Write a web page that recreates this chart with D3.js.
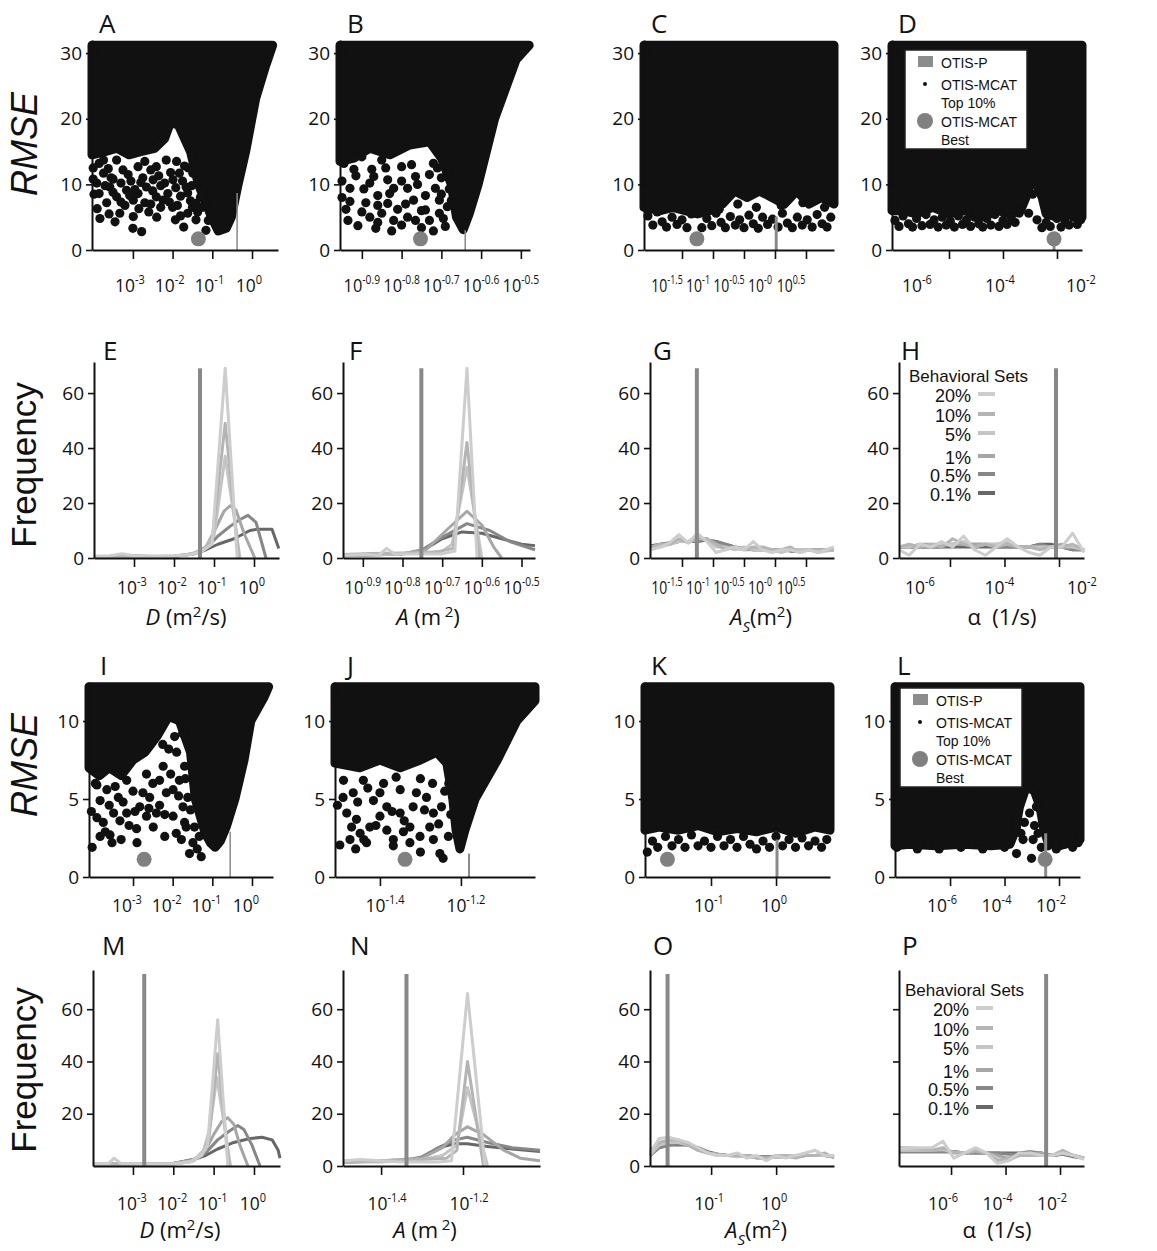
<!DOCTYPE html>
<html>
<head>
<meta charset="utf-8">
<script src="https://cdnjs.cloudflare.com/ajax/libs/d3/7.8.5/d3.min.js"></script>
<style>
  body { margin: 0; background: #fff; }
  svg text { font-family: "Open Sans", sans-serif; fill: #111; }
  .lg text { font-family: "Liberation Sans", Arial, sans-serif; }
  .ttl { font-family: "Liberation Sans", Arial, sans-serif !important; }
</style>
</head>
<body>
<svg id="fig" width="1157" height="1251"></svg>
<script>
// ---- series names / colours (behavioral sets) ----
const setNames = ['20%', '10%', '5%', '1%', '0.5%', '0.1%'];
const setColors = ['#cdcdcd', '#b4b4b4', '#c4c4c4', '#a6a6a6', '#878787', '#676767'];

// ---- tick values (log10 of parameter) and exponent labels ----
const ticksD = [-3, -2, -1, 0];          const expD = ['-3', '-2', '-1', '0'];
const ticksA1 = [-0.9, -0.8, -0.7, -0.6, -0.5]; const expA1 = ['-0.9', '-0.8', '-0.7', '-0.6', '-0.5'];
const ticksAs1 = [-1.5, -1, -0.5, 0, 0.5]; const expAs1 = ['-1.5', '-1', '-0.5', '-0', '0.5'];
const ticksAlpha = [-6, -4, -2];         const expAlpha = ['-6', '-4', '-2'];
const ticksA2 = [-1.4, -1.2];            const expA2 = ['-1.4', '-1.2'];
const ticksAs2 = [-1, 0];                const expAs2 = ['-1', '0'];

// ---- best fit (OTIS-MCAT best): [log10 param, RMSE] ----
const bestA = [-1.35, 1.7], bestB = [-0.7525, 1.7], bestC = [-1.26, 1.7], bestD = [-2.11, 1.7];
const bestI = [-2.72, 1.13], bestJ = [-1.338, 1.13], bestK = [-1.67, 1.13], bestL = [-2.51, 1.13];

// ---- OTIS-P result: [log10 param, RMSE] ----
const otisA = [-0.375, 8.7], otisB = [-0.64, 3.0], otisC = [0.02, 5.1], otisD = [-2.11, 1.5];
const otisI = [-0.55, 2.9], otisJ = [-1.18, 1.5], otisK = [0.015, 2.4], otisL = [-2.49, 2.8];

// ---- dense part of the top-10% clouds (outline of overlapping dots) ----
const cloudA = [[-4.03,31.2],[0.52,31.2],[0.34,28],[0.09,23],[-0.16,15],[-0.35,10],[-0.52,5],[-0.65,3.3],[-0.85,2.9],[-1.02,5],[-1.35,10],[-1.55,15],[-1.85,19],[-2.05,19.5],[-2.2,17],[-2.45,15.5],[-2.8,15],[-3.1,14.5],[-3.4,15.5],[-3.7,15],[-4.03,14.5]];
const cloudB = [[-0.955,31.2],[-0.479,31.2],[-0.512,29],[-0.566,20],[-0.6075,10],[-0.63,5.5],[-0.645,3.1],[-0.662,5],[-0.675,10],[-0.7,14],[-0.73,16.5],[-0.78,16],[-0.83,14.5],[-0.88,15.5],[-0.92,14],[-0.955,13.5]];
const cloudC = [[-2.113,31.2],[0.952,31.2],[0.952,7],[0.75,8],[0.55,7],[0.35,9],[0.15,7],[-0.05,8],[-0.25,9],[-0.45,8],[-0.65,9],[-0.85,7],[-1.05,6],[-1.25,5.5],[-1.45,6],[-1.65,6.5],[-1.85,6],[-2.113,6.5]];
const cloudD = [[-8.11,31.2],[-1.074,31.2],[-1.074,5],[-1.5,5.5],[-2.0,5],[-2.4,5.5],[-2.55,8],[-2.75,10],[-2.95,10.5],[-3.15,8],[-3.35,6],[-3.7,5.5],[-4.2,6],[-4.8,5],[-5.4,6],[-6.0,5.5],[-6.6,6.5],[-7.2,5.5],[-7.7,6],[-8.11,6]];
const cloudI = [[-4.11,12.2],[0.42,12.2],[0.3,11.5],[-0.03,10],[-0.2,7.5],[-0.43,5],[-0.65,3.2],[-0.8,2.3],[-0.93,1.9],[-1.05,2.2],[-1.18,2.8],[-1.43,5],[-1.55,8],[-1.83,10],[-2.1,10.3],[-2.4,9],[-2.7,8],[-3.0,7.5],[-3.3,6.5],[-3.6,7],[-3.85,6.5],[-4.11,7]];
const cloudJ = [[-1.511,12.2],[-1.017,12.2],[-1.017,11.3],[-1.062,10],[-1.11,7.5],[-1.165,5],[-1.19,3],[-1.2025,1.8],[-1.212,3],[-1.22,5],[-1.235,7.3],[-1.26,8],[-1.3,7.5],[-1.35,7],[-1.4,7.5],[-1.45,7],[-1.511,7.3]];
const cloudK = [[-2.015,12.2],[0.83,12.2],[0.83,3],[0.6,3.2],[0.3,2.8],[0,3.2],[-0.3,2.9],[-0.6,3.1],[-0.9,2.9],[-1.2,3.3],[-1.5,3],[-1.8,3.2],[-2.015,3]];
const cloudL = [[-8.02,12.2],[-1.23,12.2],[-1.23,2.4],[-1.6,2.2],[-2.0,2.0],[-2.4,2.2],[-2.55,3],[-2.7,4.5],[-2.9,5.5],[-3.2,5.8],[-3.45,4.5],[-3.6,3],[-3.8,2.1],[-4.5,2.0],[-5.5,2.1],[-6.5,2.0],[-7.5,2.1],[-8.02,2.0]];

// ---- separate dots of the top-10% clouds ----
const ptsA = [[-3.91,10.2],[-3.74,11.7],[-3.58,9.6],[-3.41,8.1],[-3.16,9.1],[-2.99,7.6],[-2.87,8.6],[-2.66,9.6],[-2.49,10.7],[-2.41,8.1],[-2.24,7.6],[-2.12,8.6],[-1.99,10.7],[-1.83,11.7],[-1.66,9.6],[-1.49,11.7],[-1.33,10],[-1.24,8.6],[-2.41,12.7],[-2.87,12.7],[-3.25,12.2],[-3.41,13.7],[-3.74,13.7],[-2.16,13.7],[-3.83,4.8],[-3.45,4.3],[-3.33,5.6],[-2.99,5.1],[-2.78,2.8],[-1.93,4.6],[-1.72,3.5],[-1.62,5.6],[-1.37,5.8],[-1.41,4.6],[-1.16,3.0],[-1.41,7.1],[-3.98,8.5],[-3.66,7.2],[-3.5,10.8],[-3.05,10.5],[-2.75,11],[-2.55,7],[-2.3,9.8],[-2.0,6.5],[-1.8,8.2],[-1.55,7.5],[-1.7,12.8],[-1.9,13.5],[-3.9,6.3],[-3.2,6.8],[-2.6,5.8],[-1.25,6.5],[-1.1,4.5],
  [-4.0,12.5],[-3.85,13.2],[-3.62,12.4],[-3.55,11],[-3.3,10.2],[-3.12,11.5],[-2.95,9.2],[-2.8,10.3],[-2.7,13.5],[-2.55,12.2],[-2.35,11.3],[-2.2,10.2],[-2.05,11.8],[-1.92,9.5],[-1.75,10.5],[-1.6,12.5],[-1.52,9.8],[-1.45,13.2],[-1.35,11.8],[-1.2,9.6],[-1.18,7.2],[-1.3,8],[-1.5,6.5],[-1.62,8.7],[-1.88,6.8],[-2.08,7.3],[-2.3,6.5],[-2.5,9],[-2.7,7.2],[-2.85,6.3],[-3.08,8.3],[-3.3,7.3],[-3.5,8.8],[-3.7,9.8],[-3.85,8.6],[-4.0,10.8],[-3.6,5.5],[-3.0,3.3],[-2.4,5],[-1.8,5.2]];
const ptsB = [[-0.94,6.2],[-0.93,9.4],[-0.91,3.7],[-0.89,7.2],[-0.88,5.0],[-0.86,8.3],[-0.85,5.6],[-0.835,7.1],[-0.825,2.9],[-0.81,6.2],[-0.785,5],[-0.77,7.6],[-0.765,4.5],[-0.74,6.1],[-0.72,2.9],[-0.715,9.4],[-0.705,5.6],[-0.69,3.6],[-0.685,6.6],[-0.915,11.3],[-0.875,12.3],[-0.835,10.7],[-0.8,12.7],[-0.765,11.2],[-0.72,13.2],[-0.7,11],[-0.945,13.2],[-0.9,14.2],[-0.785,9.4],[-0.82,9.4],[-0.88,10.2],[-0.85,13.7],[-0.74,8.3],[-0.93,7.4],[-0.68,9.3],[-0.705,7.6],[-0.95,10.5],[-0.8,3.8],[-0.86,4.2],[-0.75,3.4],
  [-0.95,8],[-0.92,12.3],[-0.9,5.8],[-0.87,11.2],[-0.86,6.8],[-0.84,12.5],[-0.83,8.6],[-0.82,4.5],[-0.8,10.5],[-0.79,7],[-0.775,13],[-0.76,10],[-0.75,6],[-0.73,11.5],[-0.73,4.5],[-0.71,12.5],[-0.7,8.5],[-0.695,4.8],[-0.68,12.2],[-0.675,7.5],[-0.935,4.5],[-0.895,9.3],[-0.865,3.3]];
const ptsC = [[-2.05,5.2],[-1.97,3.8],[-1.9,5.8],[-1.82,4.3],[-1.75,3.5],[-1.66,5.0],[-1.58,3.9],[-1.5,4.6],[-1.42,3.4],[-1.35,5.5],[-1.18,3.4],[-1.1,4.8],[-1.02,3.7],[-0.95,5.6],[-0.87,4.2],[-0.8,3.4],[-0.72,5.1],[-0.64,3.8],[-0.57,4.6],[-0.5,3.4],[-0.42,5.3],[-0.35,4.0],[-0.27,3.3],[-0.2,5.0],[-0.12,3.9],[-0.04,4.7],[0.05,3.5],[0.12,5.6],[0.2,4.1],[0.28,3.4],[0.36,5.0],[0.44,3.8],[0.52,4.6],[0.6,3.5],[0.68,5.4],[0.76,4.0],[0.84,3.5],[0.9,5.0],[-0.6,7],[-0.3,6.5],[0.1,6.8],[0.45,7.2],[0.8,6.5],[-0.9,6.2]];
const ptsD = [[-8.0,4.5],[-7.85,3.6],[-7.7,5.2],[-7.5,4.0],[-7.35,3.5],[-7.2,4.8],[-7.0,3.7],[-6.85,5.4],[-6.7,3.9],[-6.55,4.6],[-6.4,3.5],[-6.25,5.0],[-6.1,3.8],[-5.95,4.4],[-5.8,3.5],[-5.65,5.2],[-5.5,3.9],[-5.35,4.6],[-5.2,3.6],[-5.05,5.0],[-4.9,4.0],[-4.75,3.5],[-4.6,4.8],[-4.45,3.8],[-4.3,5.4],[-4.15,3.6],[-4.0,4.5],[-3.85,3.9],[-3.7,5.0],[-3.55,4.2],[-3.4,5.6],[-3.3,7.2],[-3.05,5.6],[-2.9,8.5],[-2.74,4.6],[-2.56,3.4],[-2.4,4.2],[-2.25,3.6],[-2.0,4.8],[-1.85,3.5],[-1.7,4.4],[-1.55,3.8],[-1.4,5.0],[-1.25,3.9],[-1.12,4.6]];
const ptsI = [[-4.03,1.9],[-3.91,3.8],[-3.83,2.6],[-3.7,2.9],[-3.53,2.2],[-3.58,2.7],[-3.49,4.1],[-3.83,4.9],[-3.66,5.6],[-3.37,5.1],[-2.91,3.1],[-2.66,3.9],[-2.49,3.2],[-2.41,4.1],[-2.33,4.6],[-2.83,4.5],[-2.58,5.1],[-2.16,5.4],[-1.99,3.9],[-1.91,2.8],[-1.78,2.4],[-1.66,3.2],[-1.575,1.5],[-1.49,2.2],[-1.33,2.6],[-1.28,1.3],[-1.74,4.5],[-1.99,5.6],[-2.33,6.2],[-1.83,6.2],[-1.62,5.1],[-1.7,7.1],[-2.24,7.1],[-2.66,6.6],[-3.16,6.2],[-3.83,6.6],[-3.91,5.9],[-3.16,4.1],[-3.33,3.6],[-3.0,5.5],[-2.1,8.2],[-1.95,9.0],
  [-4.05,4.2],[-3.95,6.0],[-3.75,3.5],[-3.6,4.6],[-3.45,5.8],[-3.25,4.8],[-3.1,3.3],[-2.95,4.2],[-2.75,5.4],[-2.6,4.4],[-2.5,6.0],[-2.2,4.0],[-2.05,6.6],[-1.85,5.2],[-1.7,3.5],[-1.55,4.3],[-1.45,3.2],[-1.38,1.8],[-2.9,2.2],[-3.3,2.4],[-2.2,2.6],[-1.9,8],[-1.75,9.2],[-2.25,8.5],[-1.68,6.3]];
const ptsJ = [[-1.499,2.05],[-1.474,2.4],[-1.449,2.8],[-1.433,2.2],[-1.482,4.1],[-1.458,3.7],[-1.425,3.2],[-1.4,3.9],[-1.383,3.0],[-1.367,2.4],[-1.416,4.9],[-1.383,4.5],[-1.35,4.1],[-1.326,3.2],[-1.301,2.6],[-1.277,3.2],[-1.268,2.4],[-1.252,1.5],[-1.244,1.2],[-1.231,2.6],[-1.318,4.5],[-1.285,5.1],[-1.35,5.6],[-1.391,6.0],[-1.466,5.4],[-1.491,5.1],[-1.441,6.2],[-1.268,4.1],[-1.248,4.5],[-1.326,2.2],[-1.367,2.0],[-1.342,2.9],[-1.3,6.3],[-1.23,6.0],
  [-1.505,4.6],[-1.49,6.2],[-1.47,3.2],[-1.455,4.8],[-1.44,2.4],[-1.43,5.7],[-1.41,3.3],[-1.4,5.4],[-1.37,4.2],[-1.36,6.4],[-1.34,3.6],[-1.31,5.4],[-1.29,4.3],[-1.27,6.0],[-1.255,3.4],[-1.24,5.5],[-1.225,4.0],[-1.46,1.8],[-1.3,1.6]];
const ptsK = [[-1.98,1.6],[-1.9,2.3],[-1.82,1.9],[-1.7,2.6],[-1.6,2.0],[-1.5,2.4],[-1.4,1.9],[-1.3,2.7],[-1.2,2.0],[-1.1,2.3],[-1.0,1.9],[-0.9,2.6],[-0.8,2.0],[-0.7,2.4],[-0.6,1.9],[-0.5,2.6],[-0.4,2.1],[-0.3,1.8],[-0.2,2.3],[-0.1,1.9],[0.0,2.6],[0.1,2.0],[0.2,2.4],[0.3,1.9],[0.4,2.5],[0.5,2.0],[0.6,2.3],[0.7,1.9],[0.78,2.4]];
const ptsL = [[-7.95,1.9],[-7.6,2.2],[-7.2,1.8],[-6.8,2.1],[-6.4,1.8],[-6.0,2.2],[-5.6,1.9],[-5.2,2.1],[-4.8,1.8],[-4.4,2.2],[-4.0,1.9],[-3.56,1.5],[-3.32,2.4],[-3.27,3.5],[-3.01,1.2],[-2.95,2.4],[-2.77,2.8],[-2.65,1.9],[-3.56,3.2],[-3.08,4.1],[-2.83,4.5],[-3.4,2.8],[-2.9,3.3],[-2.4,2.0],[-2.1,1.8],[-1.8,2.1],[-1.5,1.9],[-1.3,2.2]];

// ---- frequency distributions, one list per behavioral set (20% ... 0.1%) ----
const freqE = [
  [[-4.0,0.6],[-3.6,0.8],[-3.3,1.6],[-3.0,0.8],[-2.5,0.6],[-2.0,0.8],[-1.6,1.2],[-1.3,2.5],[-1.05,5],[-0.72,69],[-0.42,0]],
  [[-4.0,0.5],[-3.5,0.6],[-3.0,0.9],[-2.5,0.5],[-2.0,0.7],[-1.6,1.3],[-1.3,3],[-1.05,6],[-0.72,49],[-0.38,0]],
  [[-4.0,0.4],[-3.0,0.6],[-2.0,0.7],[-1.5,1.5],[-1.25,3],[-1.0,8],[-0.72,37],[-0.35,0]],
  [[-4.0,0.3],[-3.0,0.5],[-2.0,0.6],[-1.5,1.5],[-1.2,4],[-0.95,11],[-0.75,17],[-0.6,19],[-0.45,17.5],[-0.25,9],[0.02,0]],
  [[-4.0,0.3],[-2.0,0.6],[-1.5,1.6],[-1.2,3.5],[-0.9,8],[-0.6,11.5],[-0.35,14],[-0.15,15.5],[0.05,13],[0.3,0]],
  [[-4.0,0.3],[-2.0,0.5],[-1.5,1.5],[-1.2,3],[-0.9,5],[-0.5,7],[-0.1,10],[0.1,10.5],[0.45,10.5],[0.62,3.5]]
];
const freqF = [
  [[-0.95,1],[-0.9,1.3],[-0.86,1],[-0.84,3.5],[-0.82,1.5],[-0.76,1.5],[-0.7,1.5],[-0.668,2.5],[-0.6375,69],[-0.612,0]],
  [[-0.95,1.3],[-0.88,1.6],[-0.8,1.8],[-0.72,2],[-0.672,3.5],[-0.6375,42],[-0.607,0]],
  [[-0.95,1],[-0.8,1.5],[-0.7,2.5],[-0.675,5],[-0.6375,33],[-0.6,0]],
  [[-0.95,1],[-0.8,1.5],[-0.74,3],[-0.69,10],[-0.6375,17],[-0.6,12],[-0.57,4],[-0.55,0]],
  [[-0.95,0.8],[-0.8,1.5],[-0.75,3],[-0.7,7.5],[-0.6375,12.5],[-0.58,10],[-0.53,6],[-0.466,3]],
  [[-0.95,0.8],[-0.8,1.5],[-0.757,2],[-0.7,7],[-0.65,9.5],[-0.6,9],[-0.55,7],[-0.5,5],[-0.466,4.5]]
];
const gridG = [-2.0,-1.85,-1.7,-1.55,-1.4,-1.25,-1.1,-0.95,-0.8,-0.65,-0.5,-0.35,-0.2,-0.05,0.1,0.25,0.4,0.55,0.7,0.95];
const freqG = [
  [3,4,5.5,8.5,5.5,9,6,2,3,4,3,6,3,2,3,3,2,3,2,4],
  [4,5,5,7,5.5,7,7,5,3,4,3,4,4,3,3,4,2,3,3,3],
  [3.5,4,5,6,6,8,6.5,4,4,3,4,3,3,3,2,3,3,3,2,3],
  [4,4.5,5,6,6,7,7,5,4,3.5,3,3,3.5,3,3,3,3,3,3,3],
  [4,5,5.5,6,6,6.5,6.5,6,5,4,3.5,3,3,3,3,3,2.5,3,3,3],
  [4.5,5,5.5,6,6,6,6.5,6,5,4,3.5,3,3,3,3,2.5,2.5,3,3,3]
];
const gridH = [-7.87,-7.5,-7.1,-6.7,-6.3,-5.9,-5.5,-5.1,-4.7,-4.3,-3.9,-3.5,-3.1,-2.7,-2.3,-1.9,-1.5,-1.08];
const freqH = [
  [3,1,5,4,6,4,8,3,1,4,7,4,2,1,4,4,9,2],
  [4,5,4,5,4,7,5,4,5,4,5,4,4,3,4,4,5,3],
  [4,4,5,4,5,5,6,4,5,5,6,4,4,4,4,4,4,3],
  [4,4,5,5,5,5,5,5,5,5,5,4,4,4,4,5,4,3],
  [4,4,4,4,4,5,5,5,5,4,4,4,4,5,4,4,3,3],
  [4,4,4,4,4,4,4,4,4,4,4,4,4,5,5,4,3,3]
];
const freqM = [
  [[-3.99,1],[-3.6,1],[-3.47,3],[-3.3,1],[-2.5,0.8],[-2.0,0.8],[-1.6,1.5],[-1.3,4],[-1.15,8],[-0.9,56],[-0.65,0]],
  [[-3.99,1],[-3.0,0.8],[-2.0,0.8],[-1.6,1.5],[-1.3,4],[-1.12,10],[-0.9,43],[-0.62,0]],
  [[-3.99,0.8],[-2.0,1],[-1.5,2],[-1.25,6],[-1.1,14],[-0.92,34],[-0.58,0]],
  [[-3.99,0.8],[-2.0,1],[-1.5,2],[-1.2,6],[-1.0,12],[-0.8,17],[-0.65,18.5],[-0.5,16],[-0.35,8],[-0.15,0]],
  [[-3.99,0.8],[-2.0,1],[-1.5,2.5],[-1.2,5],[-0.9,10],[-0.6,13.5],[-0.4,15.5],[-0.25,14],[-0.05,8],[0.15,0]],
  [[-3.99,0.8],[-2.0,1],[-1.5,2.5],[-1.2,4],[-0.9,6.5],[-0.5,9],[-0.1,10.5],[0.2,11],[0.45,10],[0.6,6],[0.645,3]]
];
const freqN = [
  [[-1.493,2],[-1.45,2.5],[-1.4,2],[-1.35,1.5],[-1.3,1.5],[-1.26,1.5],[-1.228,2],[-1.189,66],[-1.146,0]],
  [[-1.493,1.5],[-1.4,2],[-1.3,2.5],[-1.24,3],[-1.215,6],[-1.189,40],[-1.15,0]],
  [[-1.493,1.5],[-1.4,1.5],[-1.3,2.5],[-1.25,4],[-1.215,8],[-1.189,30],[-1.14,0]],
  [[-1.493,1.5],[-1.4,2],[-1.3,3],[-1.25,7],[-1.22,12],[-1.189,15],[-1.15,12],[-1.1,6],[-1.06,3],[-1.012,2]],
  [[-1.493,1.5],[-1.35,2],[-1.3,3.5],[-1.26,7],[-1.22,10],[-1.19,11],[-1.14,9],[-1.08,7],[-1.012,6]],
  [[-1.493,1.5],[-1.35,2],[-1.304,3],[-1.26,7],[-1.22,8.5],[-1.19,8.5],[-1.14,7.5],[-1.08,6.5],[-1.012,5.5]]
];
const gridO = [-1.94,-1.8,-1.65,-1.5,-1.35,-1.2,-1.05,-0.9,-0.75,-0.6,-0.45,-0.3,-0.15,0,0.15,0.3,0.45,0.6,0.75,0.89];
const freqO = [
  [5,10.5,11,10,9,7,5,4,4,5,3,4,2,4,3,4,5,6,4,4],
  [6,9,10,10,8,6,5,4.5,4,4,4,3,3,4,4,3,4,4,5,3],
  [4,8,9,9,8,6,5,4,4,3.5,4,3,3,3.5,4,4,4,4,4,3.5],
  [5,8,9,9,8,6.5,5,4.5,4,4,3.5,3.5,3,3.5,3.5,4,4,4,4,3.5],
  [4,7,8,8.5,8,7,5,4.5,4,4,3.5,3.5,3.5,3.5,3.5,3.5,4,4,4,3.5],
  [4,7,8,8,8,7,5.5,4.5,4,4,4,3.5,3.5,3.5,3.5,3.5,4,4,4,3.5]
];
const gridP = [-7.91,-7.5,-7.1,-6.7,-6.3,-5.9,-5.5,-5.1,-4.7,-4.3,-3.9,-3.5,-3.1,-2.7,-2.3,-1.9,-1.5,-1.12];
const freqP = [
  [6.5,7,7,7,9.5,3,5,7,5,1,2,5,5,4,4,5,4,2.5],
  [7,7,6.5,6,7,5,5,6,5,2,3,4,4,4,4,6,4,3],
  [6,6,6,6,6.5,5,5,6,5,3,2,4,5,4,4,5,4,3],
  [6,6,6,6,6,5.5,5,5.5,5,4,3,4,5,5,4,5,4,3],
  [5.5,5.5,5.5,5.5,5.5,5.5,5,5,5,5,4.5,4.5,5,5,4,4.5,4,3],
  [5.5,5.5,5.5,5.5,5.5,5.5,5,5,5,5,5,5,5.5,5,4,4.5,3.5,3]
];

const svg = d3.select('#fig');

function onGrid(grid, sets) {
  return sets.map(vals => grid.map((g, i) => [g, vals[i]]));
}

function drawXAxis(x, yPx, ticks, exps, dx, baseline, sx) {
  svg.append('g').attr('transform', `translate(0,${yPx})`).attr('color', '#111')
    .call(d3.axisBottom(x).tickValues(ticks).tickFormat('').tickSize(9).tickSizeOuter(0))
    .call(a => a.select('.domain').attr('stroke-width', 2))
    .call(a => a.selectAll('.tick line').attr('stroke-width', 1.6));
  ticks.forEach((t, i) => {
    let off = Array.isArray(dx) ? dx[i] : dx;
    // labels are horizontally condensed, like the narrow face of the original
    let txt = svg.append('text')
      .attr('transform', `translate(${x(t) + off},${baseline}) scale(${sx || 0.92},1)`)
      .attr('text-anchor', 'middle').attr('font-size', 19);
    txt.append('tspan').text('10');
    txt.append('tspan').attr('dy', -8).attr('font-size', 12).text(exps[i]);
  });
}

function drawYAxis(y, xPx, ticks, labelled) {
  svg.append('g').attr('transform', `translate(${xPx},0)`).attr('color', '#111')
    .call(d3.axisLeft(y).tickValues(ticks).tickFormat(d => labelled.includes(d) ? d : '')
      .tickSize(6).tickSizeOuter(0).tickPadding(4))
    .call(a => a.select('.domain').attr('stroke-width', 2))
    .call(a => a.selectAll('.tick line').attr('stroke-width', 1.6))
    .call(a => a.selectAll('text').attr('font-size', 19));
}

function drawScatter(p) {
  let x = d3.scaleLinear().domain(p.xDom).range(p.xRange);
  let y = d3.scaleLinear().domain(p.yDom).range(p.yRange);
  let g = svg.append('g');
  g.append('path').datum(p.cloud)
    .attr('d', d3.line().x(d => x(d[0])).y(d => y(d[1])).curve(d3.curveLinearClosed))
    .attr('fill', '#111').attr('stroke', '#111').attr('stroke-width', 9).attr('stroke-linejoin', 'round');
  g.selectAll('circle.pt').data(p.pts).join('circle').attr('class', 'pt')
    .attr('cx', d => x(d[0])).attr('cy', d => y(d[1])).attr('r', 4.6).attr('fill', '#111');
  g.append('line').attr('x1', x(p.otis[0])).attr('x2', x(p.otis[0]))
    .attr('y1', y(0)).attr('y2', y(p.otis[1]))
    .attr('stroke', '#8a8a8a').attr('stroke-width', p.otisW);
  g.append('circle').attr('cx', x(p.best[0])).attr('cy', y(p.best[1])).attr('r', 7.5).attr('fill', '#808080');
  drawYAxis(y, p.xRange[0], p.yTicks, p.yTicks);
  drawXAxis(x, p.yRange[0], p.ticks, p.exps, p.dx, p.base, p.sx);
}

function drawFreq(p) {
  let x = d3.scaleLinear().domain(p.xDom).range(p.xRange);
  let y = d3.scaleLinear().domain(p.yDom).range(p.yRange);
  let line = d3.line().x(d => x(d[0])).y(d => y(d[1]));
  let order = [5, 4, 3, 2, 1, 0];
  order.forEach(i => {
    svg.append('path').datum(p.sets[i]).attr('d', line)
      .attr('fill', 'none').attr('stroke', setColors[i]).attr('stroke-width', 3)
      .attr('stroke-linejoin', 'round');
  });
  svg.append('line').attr('x1', x(p.best)).attr('x2', x(p.best))
    .attr('y1', y(0)).attr('y2', y(p.barTop))
    .attr('stroke', '#888').attr('stroke-width', 4);
  drawYAxis(y, p.xRange[0], p.yTicks, p.yLabels);
  drawXAxis(x, p.yRange[0], p.ticks, p.exps, p.dx, p.base, p.sx);
}

function letter(t, x, y) {
  svg.append('text').attr('x', x).attr('y', y).attr('font-size', 26).text(t);
}

function yTitle(t, x, y, italic, size) {
  svg.append('text').attr('class', 'ttl').attr('transform', `translate(${x},${y}) rotate(-90)`)
    .attr('text-anchor', 'middle').attr('font-size', size)
    .attr('font-style', italic ? 'italic' : 'normal').text(t);
}

// x titles built from pieces: [text, kind]
function xTitle(parts, cx, base) {
  let t = svg.append('text').attr('x', cx).attr('y', base).attr('text-anchor', 'middle').attr('font-size', 22);
  let shift = 0;
  parts.forEach(pt => {
    let s = t.append('tspan').text(pt[0]);
    let want = pt[1] === 'sup' ? -8 : pt[1] === 'sub' ? 7 : 0;
    if (want !== shift) { s.attr('dy', want - shift); shift = want; }
    if (pt[1] === 'sup' || pt[1] === 'sub') s.attr('font-size', 15);
    if (pt[1] === 'it' || pt[1] === 'sub') s.attr('font-style', 'italic');
  });
}

function otisLegend(x0, y0) {
  let g = svg.append('g').attr('class', 'lg');
  g.append('rect').attr('x', x0).attr('y', y0).attr('width', 122).attr('height', 99)
    .attr('fill', '#fff').attr('stroke', '#222').attr('stroke-width', 1.5);
  g.append('rect').attr('x', x0 + 13).attr('y', y0 + 6).attr('width', 15).attr('height', 11).attr('fill', '#8c8c8c');
  g.append('circle').attr('cx', x0 + 20).attr('cy', y0 + 34).attr('r', 2).attr('fill', '#111');
  g.append('circle').attr('cx', x0 + 20).attr('cy', y0 + 71).attr('r', 8).attr('fill', '#808080');
  let rows = [['OTIS-P', 18], ['OTIS-MCAT', 40], ['Top 10%', 58], ['OTIS-MCAT', 77], ['Best', 95]];
  rows.forEach(r => g.append('text').attr('x', x0 + 36).attr('y', y0 + r[1]).attr('font-size', 14).text(r[0]));
}

function setsLegend(xTitleX, baseY, textRight) {
  let g = svg.append('g').attr('class', 'lg');
  g.append('text').attr('x', xTitleX).attr('y', baseY).attr('font-size', 17).text('Behavioral Sets');
  let offs = [20, 40, 59, 82, 100, 119];
  setNames.forEach((n, i) => {
    g.append('text').attr('x', textRight).attr('y', baseY + offs[i]).attr('text-anchor', 'end')
      .attr('font-size', 18).text(n);
    g.append('line').attr('x1', textRight + 7).attr('x2', textRight + 24)
      .attr('y1', baseY + offs[i] - 8).attr('y2', baseY + offs[i] - 8)
      .attr('stroke', setColors[i]).attr('stroke-width', 4);
  });
}

// ---- row 1: RMSE vs parameter ----
const row1 = { yDom: [0, 32], yRange: [250, 40], yTicks: [0, 10, 20, 30], base: 292 };
drawScatter(Object.assign({}, row1, { xDom: [-4.03, 0.655], xRange: [92, 278], cloud: cloudA, pts: ptsA, best: bestA, otis: otisA, otisW: 1.5, ticks: ticksD, exps: expD, dx: -3 }));
drawScatter(Object.assign({}, row1, { xDom: [-0.955, -0.477], xRange: [340, 530], cloud: cloudB, pts: ptsB, best: bestB, otis: otisB, otisW: 1.5, ticks: ticksA1, exps: expA1, dx: 0, sx: 0.86 }));
drawScatter(Object.assign({}, row1, { xDom: [-2.113, 0.952], xRange: [644, 834], cloud: cloudC, pts: ptsC, best: bestC, otis: otisC, otisW: 3, ticks: ticksAs1, exps: expAs1, dx: -15, sx: 0.74 }));
drawScatter(Object.assign({}, row1, { xDom: [-8.11, -1.074], xRange: [892, 1082], cloud: cloudD, pts: ptsD, best: bestD, otis: otisD, otisW: 3, ticks: ticksAlpha, exps: expAlpha, dx: [-32, -3, 24] }));
otisLegend(905, 50);

// ---- row 2: frequency ----
const row2 = { yDom: [0, 71.3], yRange: [558, 362], yTicks: [0, 20, 40, 60], yLabels: [0, 20, 40, 60], barTop: 69, base: 594 };
drawFreq(Object.assign({}, row2, { xDom: [-4.0, 0.625], xRange: [94, 279], sets: freqE, best: bestA[0], ticks: ticksD, exps: expD, dx: -2 }));
drawFreq(Object.assign({}, row2, { xDom: [-0.95, -0.466], xRange: [343, 535], sets: freqF, best: bestB[0], ticks: ticksA1, exps: expA1, dx: 0, sx: 0.86 }));
drawFreq(Object.assign({}, row2, { xDom: [-2.016, 0.952], xRange: [650, 834], sets: onGrid(gridG, freqG), best: bestC[0], ticks: ticksAs1, exps: expAs1, dx: -15, sx: 0.74 }));
drawFreq(Object.assign({}, row2, { xDom: [-7.87, -1.083], xRange: [899, 1084], sets: onGrid(gridH, freqH), best: bestD[0], ticks: ticksAlpha, exps: expAlpha, dx: [-30, -5, 23] }));
setsLegend(909, 382, 971);

// ---- row 3: RMSE vs parameter ----
const row3 = { yDom: [0, 12.5], yRange: [877, 682], yTicks: [0, 5, 10], base: 912 };
drawScatter(Object.assign({}, row3, { xDom: [-4.11, 0.53], xRange: [89, 273], cloud: cloudI, pts: ptsI, best: bestI, otis: otisI, otisW: 1.5, ticks: ticksD, exps: expD, dx: -6 }));
drawScatter(Object.assign({}, row3, { xDom: [-1.511, -1.017], xRange: [335, 535], cloud: cloudJ, pts: ptsJ, best: bestJ, otis: otisJ, otisW: 2, ticks: ticksA2, exps: expA2, dx: 5 }));
drawScatter(Object.assign({}, row3, { xDom: [-2.015, 0.83], xRange: [645, 830], cloud: cloudK, pts: ptsK, best: bestK, otis: otisK, otisW: 3, ticks: ticksAs2, exps: expAs2, dx: -2 }));
drawScatter(Object.assign({}, row3, { xDom: [-8.02, -1.23], xRange: [895, 1080], cloud: cloudL, pts: ptsL, best: bestL, otis: otisL, otisW: 3, ticks: ticksAlpha, exps: expAlpha, dx: -8 }));
otisLegend(900, 688);

// ---- row 4: frequency ----
const row4 = { yDom: [0, 75], yRange: [1166, 970], yTicks: [0, 20, 40, 60], yLabels: [0, 20, 40, 60], barTop: 73.5, base: 1210 };
drawFreq(Object.assign({}, row4, { xDom: [-3.99, 0.645], xRange: [93, 280], sets: freqM, best: bestI[0], yTicks: [20, 40, 60], yLabels: [20, 40, 60], ticks: ticksD, exps: expD, dx: -1 }));
drawFreq(Object.assign({}, row4, { xDom: [-1.493, -1.012], xRange: [343, 540], sets: freqN, best: bestJ[0], ticks: ticksA2, exps: expA2, dx: 6 }));
drawFreq(Object.assign({}, row4, { xDom: [-1.94, 0.89], xRange: [650, 834], sets: onGrid(gridO, freqO), best: bestK[0], ticks: ticksAs2, exps: expAs2, dx: -2 }));
drawFreq(Object.assign({}, row4, { xDom: [-7.91, -1.12], xRange: [899, 1084], sets: onGrid(gridP, freqP), best: bestL[0], yTicks: [20, 40, 60], yLabels: [], ticks: ticksAlpha, exps: expAlpha, dx: -8 }));
setsLegend(905, 996, 969);

// ---- panel letters ----
[['A',99,33],['B',347,33],['C',651,33],['D',898,33],
 ['E',103,360],['F',349,360],['G',653,360],['H',901,360],
 ['I',100,675],['J',347,675],['K',651,675],['L',897,675],
 ['M',102,955],['N',350,955],['O',653,955],['P',902,955]].forEach(l => letter(l[0], l[1], l[2]));

// ---- axis titles ----
yTitle('RMSE', 37, 144, true, 36);
yTitle('Frequency', 36, 465, false, 35);
yTitle('RMSE', 37, 765, true, 36);
yTitle('Frequency', 36, 1070, false, 35);

const titleD = [['D', 'it'], [' (m', ''], ['2', 'sup'], ['/s)', '']];
const titleA = [['A', 'it'], [' (m\u2009', ''], ['2', 'sup'], [')', '']];
const titleAs = [['A', 'it'], ['S', 'sub'], ['(m', ''], ['2', 'sup'], [')', '']];
const titleAlpha = [['\u03b1\u00a0 (1/s)', '']];
xTitle(titleD, 186, 625); xTitle(titleA, 428, 625); xTitle(titleAs, 761, 625); xTitle(titleAlpha, 1002, 625);
xTitle(titleD, 180, 1238); xTitle(titleA, 425, 1238); xTitle(titleAs, 756, 1238); xTitle(titleAlpha, 997, 1238);
</script>
</body>
</html>
